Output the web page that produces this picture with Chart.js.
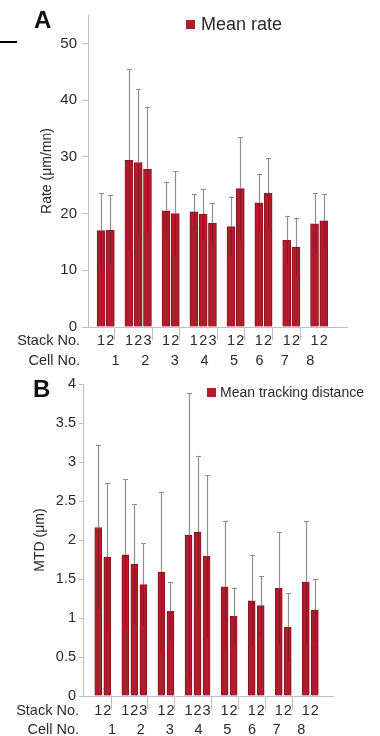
<!DOCTYPE html>
<html><head><meta charset="utf-8">
<script src="https://cdn.jsdelivr.net/npm/chart.js@4.4.1/dist/chart.umd.min.js"></script>
<style>
html,body{margin:0;padding:0;background:#fff;}
#wrap{position:relative;width:380px;height:736px;overflow:hidden;font-family:"Liberation Sans",Arial,sans-serif;}
canvas{position:absolute;left:0;}
#cA{top:0;} #cB{top:365px;}
.panel{position:absolute;font-weight:bold;font-size:24px;color:#111;line-height:1;}
#cut{position:absolute;left:0;top:41px;width:17px;height:1.5px;background:#000;}
</style></head><body>
<div id="wrap">
<canvas id="cA" width="380" height="365"></canvas>
<canvas id="cB" width="380" height="371"></canvas>
<div id="cut"></div>
<div class="panel" style="left:34px;top:8px">A</div>
<div class="panel" style="left:33px;top:377px">B</div>
</div>
<script>
// ---------- data ----------
const cellNames = ['1','2','3','4','5','6','7','8'];
const stacksPerCell = [2,3,2,3,2,2,2,2];
const stackLabels = ['1','2','1','2','3','1','2','1','2','3','1','2','1','2','1','2','1','2'];

const rateMean = [17.0,17.1, 29.4,29.0,27.8, 20.5,20.0, 20.3,19.9,18.3, 17.7,24.4, 21.9,23.6, 15.3,14.1, 18.2,18.7];
const rateSD   = [6.6,6.1, 16.0,13.0,11.0, 5.0,7.5, 3.1,4.5,3.6, 5.3,9.1, 5.1,6.2, 4.3,5.2, 5.4,4.8];
const rateTicks = [0,10,20,30,40,50];

const mtdMean = [2.16,1.78, 1.81,1.69,1.43, 1.59,1.085, 2.06,2.10,1.79, 1.40,1.02, 1.22,1.16, 1.38,0.88, 1.46,1.10];
const mtdSD   = [1.06,0.95, 0.97,0.77,0.53, 1.03,0.375, 1.82,0.98,1.04, 0.84,0.37, 0.59,0.38, 0.72,0.44, 0.78,0.40];
const mtdTicks = [0,0.5,1,1.5,2,2.5,3,3.5,4];

// ---------- styles ----------
const FONT = '"Liberation Sans", Arial, sans-serif';
const RED = '#b01c2c';
const RED_DARK = '#8a1420';
const AXIS = '#b8bcd6';
const TEXT = '#2a2a2a';

// slot layout computed from group sizes
function slotLayout(){
  const pos=[], bounds=[], centers=[];
  let s=0;
  stacksPerCell.forEach((n,g)=>{
    for(let k=0;k<n;k++) pos.push(s+k);
    centers.push(s+(n-1)/2);
    s+=n;
    if(g<stacksPerCell.length-1){ bounds.push(s); s+=1; }
  });
  return {pos,bounds,centers};
}
const L = slotLayout();

const errorPlugin = {
  id:'errBars',
  afterDatasetsDraw(chart){
    const ctx=chart.ctx, ys=chart.scales.y;
    chart.data.datasets.forEach((ds,di)=>{
      const meta=chart.getDatasetMeta(di);
      meta.data.forEach((el,i)=>{
        const m=ds.data[i].y, e=ds.errorBars[i];
        const x=Math.round(el.x)+0.5;
        const yt=ys.getPixelForValue(m+e), yl=ys.getPixelForValue(Math.max(0,m-e));
        ctx.save();
        ctx.lineWidth=1;
        ctx.strokeStyle='rgba(80,5,15,0.35)';
        ctx.beginPath(); ctx.moveTo(x,el.y); ctx.lineTo(x,yl); ctx.stroke();
        ctx.strokeStyle='#8e8e8e';
        ctx.lineWidth=1.2;
        ctx.beginPath(); ctx.moveTo(x,el.y); ctx.lineTo(x,yt); ctx.stroke();
        ctx.lineWidth=1;
        ctx.beginPath(); ctx.moveTo(x-2.5,Math.round(yt)+0.5); ctx.lineTo(x+2.5,Math.round(yt)+0.5); ctx.stroke();
        ctx.restore();
      });
    });
  }
};

const legendPlugin = {
  id:'boxLegend',
  afterDraw(chart,args,opts){
    const ctx=chart.ctx, ds=chart.data.datasets[0];
    ctx.save();
    ctx.fillStyle=ds.backgroundColor;
    ctx.fillRect(opts.x,opts.y,opts.size,opts.size);
    ctx.fillStyle=TEXT;
    ctx.font=opts.fontSize+'px '+FONT;
    ctx.textBaseline='middle'; ctx.textAlign='left';
    ctx.fillText(ds.label,opts.x+opts.size+opts.gap,opts.y+opts.size/2+0.5);
    ctx.restore();
  }
};

function labelCenterY(scale){
  const items=scale.getLabelItems();
  if(items.length){ const it=items[0]; return it.options.translation[1]+it.textOffset; }
  return scale.top+scale.height/2;
}
const rowLabelPlugin = {
  id:'rowLabels',
  afterDraw(chart,args,opts){
    const ctx=chart.ctx;
    ctx.save();
    ctx.fillStyle=TEXT;
    ctx.font=opts.fontSize+'px '+FONT;
    ctx.textAlign='right'; ctx.textBaseline='middle';
    ctx.fillText('Stack No.',opts.x,labelCenterY(chart.scales.x));
    ctx.fillText('Cell No.',opts.x,labelCenterY(chart.scales.cell));
    ctx.restore();
  }
};

function makeChart(id,c){
  const stackMap=new Map(L.pos.map((p,i)=>[p,stackLabels[i]]));
  const cellMap=new Map(L.centers.map((p,i)=>[p,cellNames[i]]));
  const boundSet=new Set(L.bounds);
  const xTicks=[...L.pos,...L.bounds].sort((a,b)=>a-b);
  const rowFont={family:FONT,size:c.rowFont,lineHeight:1};
  return new Chart(document.getElementById(id),{
    type:'bar',
    data:{datasets:[{
      label:c.label,
      data:L.pos.map((x,i)=>({x,y:c.values[i]})),
      errorBars:c.errors,
      backgroundColor:RED,borderColor:RED_DARK,borderWidth:1,
      barThickness:c.barW
    }]},
    options:{
      responsive:false,animation:false,devicePixelRatio:1,
      layout:{padding:{left:0,right:c.padRight,top:c.padTop,bottom:0}},
      plugins:{legend:{display:false},tooltip:{enabled:false},
        boxLegend:c.legend, rowLabels:{x:c.rowX,fontSize:c.rowFont}},
      scales:{
        x:{type:'linear',position:'bottom',min:c.xMin,max:c.xMax,
          afterBuildTicks:sc=>{sc.ticks=xTicks.map(v=>({value:v}));},
          afterFit:sc=>{sc.height=c.stackH;},
          ticks:{autoSkip:false,maxRotation:0,minRotation:0,padding:c.stackPad,font:rowFont,color:TEXT,
            callback:v=>stackMap.has(v)?stackMap.get(v):''},
          grid:{drawOnChartArea:false,tickLength:c.sepLen,lineWidth:1,
            color:ctx=>(ctx.tick&&boundSet.has(ctx.tick.value))?AXIS:'rgba(0,0,0,0)'},
          border:{display:true,color:AXIS,width:1}},
        cell:{type:'linear',position:'bottom',min:c.xMin,max:c.xMax,
          afterBuildTicks:sc=>{sc.ticks=L.centers.map(v=>({value:v}));},
          afterFit:sc=>{sc.height=c.cellH;},
          ticks:{autoSkip:false,maxRotation:0,minRotation:0,padding:c.cellPad,font:rowFont,color:TEXT,
            callback:v=>cellMap.has(v)?cellMap.get(v):''},
          grid:{display:false,drawTicks:false},border:{display:false}},
        y:{type:'linear',min:0,max:c.yMax,
          afterBuildTicks:sc=>{sc.ticks=c.yTicks.map(v=>({value:v}));},
          afterFit:sc=>{sc.width=c.yW;},
          ticks:{padding:c.yPad,font:{family:FONT,size:c.tickFont},color:TEXT,callback:v=>String(v)},
          grid:{drawOnChartArea:false,tickLength:c.yTickLen,color:AXIS},
          border:{display:true,color:AXIS,width:1},
          title:{display:true,text:c.yTitle,color:TEXT,font:{family:FONT,size:14},padding:{top:c.titlePad,bottom:0}}}
      }
    },
    plugins:[errorPlugin,legendPlugin,rowLabelPlugin]
  });
}

makeChart('cA',{
  label:'Mean rate',values:rateMean,errors:rateSD,yTicks:rateTicks,yMax:55,
  yTitle:'Rate (μm/mn)',titlePad:38.6,
  xMin:-0.85,xMax:25.94,barW:8,
  padRight:33,padTop:15,yW:88,yPad:5,yTickLen:6,tickFont:15,
  stackH:22,cellH:16,stackPad:-6.25,cellPad:4.75,sepLen:13,rowFont:14.5,rowX:80,
  legend:{x:186,y:20,size:9,gap:6,fontSize:18}
});
makeChart('cB',{
  label:'Mean tracking distance',values:mtdMean,errors:mtdSD,yTicks:mtdTicks,yMax:4,
  yTitle:'MTD (μm)',titlePad:32,
  xMin:-1.14,xMax:25.46,barW:7,
  padRight:47,padTop:19,yW:83,yPad:3,yTickLen:4,tickFont:14.5,
  stackH:25,cellH:15,stackPad:-6.25,cellPad:1.75,sepLen:14,rowFont:14.5,rowX:79,
  legend:{x:207,y:23,size:9,gap:4,fontSize:14}
});
</script>
</body></html>
